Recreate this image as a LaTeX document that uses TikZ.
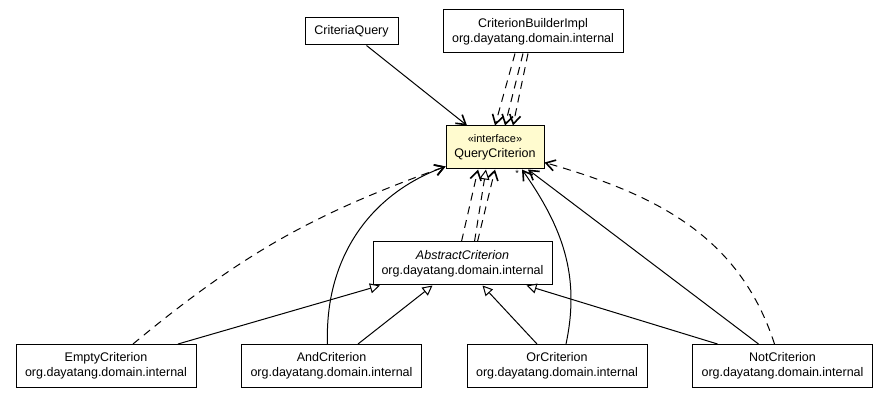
\documentclass[tikz,border=0pt]{standalone}
\usepackage{fontspec}
\setmainfont{Liberation Sans}
\usetikzlibrary{arrows.meta}
\definecolor{ifacefill}{HTML}{FFFBCF}
\newcommand{\pkg}{org.dayatang.domain.internal}
\newcommand{\stereo}[1]{{\fontsize{11}{12}\selectfont«#1»}}

\begin{document}
\begin{tikzpicture}[x=1pt, y=1pt, font=\fontsize{12.5}{15}\selectfont,
		cls/.style={draw, line width=1pt, fill=white, align=center, inner sep=0pt,
			minimum width=180pt, minimum height=43pt},
		assoc/.style={line width=1pt, -{Straight Barb[length=9pt, width=11pt, line width=1.6pt]}},
		dep/.style={assoc, dash pattern=on 8pt off 6pt},
		inherit/.style={line width=1pt, -{Triangle[open, fill=white, length=10pt, width=10pt, line width=1pt]}},
		realize/.style={inherit, dash pattern=on 8pt off 6pt}]
	\useasboundingbox (0,0) rectangle (888,399);

	% classes
	\node[cls, minimum width=93pt, minimum height=27pt] (cq) at (351.5,367.5) {CriteriaQuery};
	\node[cls] (cbi) at (533,367.5) {CriterionBuilderImpl\\\pkg};
	\node[cls, fill=ifacefill, minimum width=98pt] (qc) at (495,251.5) {\stereo{interface}\\QueryCriterion};
	\node[cls, minimum width=179pt] (ac) at (462.5,135.5) {\textit{AbstractCriterion}\\\pkg};
	\node[cls] (ec) at (106,33) {EmptyCriterion\\\pkg};
	\node[cls] (andc) at (331.5,33) {AndCriterion\\\pkg};
	\node[cls] (orc) at (557,33) {OrCriterion\\\pkg};
	\node[cls] (notc) at (782.5,33) {NotCriterion\\\pkg};
	\node[font=\fontsize{9}{9}\selectfont, inner sep=0pt] (many) at ([xshift=22pt, yshift=-4pt]qc.south) {*};

	% associations and dependencies
	\path[assoc]
		([xshift=15pt]cq.south) edge ([xshift=-28pt]qc.north)
		([xshift=-4pt]andc.north) edge[out=92, in=200] ([yshift=3pt]qc.south west)
		([xshift=9pt]orc.north) edge[out=78, in=-55] ([xshift=27pt]qc.south)
		([xshift=-24pt]notc.north) edge ([xshift=33pt]qc.south);
	\path[dep]
		([xshift=-18pt]cbi.south) edge (qc.north)
		([xshift=-10pt]cbi.south) edge ([xshift=10pt]qc.north)
		([xshift=-5pt]cbi.south) edge ([xshift=18pt]qc.north)
		([xshift=-1pt]ac.north) edge ([xshift=-17pt]qc.south)
		([xshift=15pt]ac.north) edge (qc.south)
		([xshift=27pt]ec.north) edge[bend left=10] ([yshift=3pt]qc.south west)
		([xshift=-8pt]notc.north) edge[out=108, in=-16] ([yshift=7pt]qc.south east);
	\path[realize]
		([xshift=12pt]ac.north) edge ([xshift=-9pt]qc.south);

	% generalizations
	\path[inherit]
		([xshift=72pt]ec.north) edge ([xshift=-82.5pt]ac.south)
		([xshift=26.5pt]andc.north) edge ([xshift=-30pt]ac.south)
		([xshift=-20pt]orc.north) edge ([xshift=20pt]ac.south)
		([xshift=-65pt]notc.north) edge ([xshift=64pt]ac.south);
\end{tikzpicture}
\end{document}
